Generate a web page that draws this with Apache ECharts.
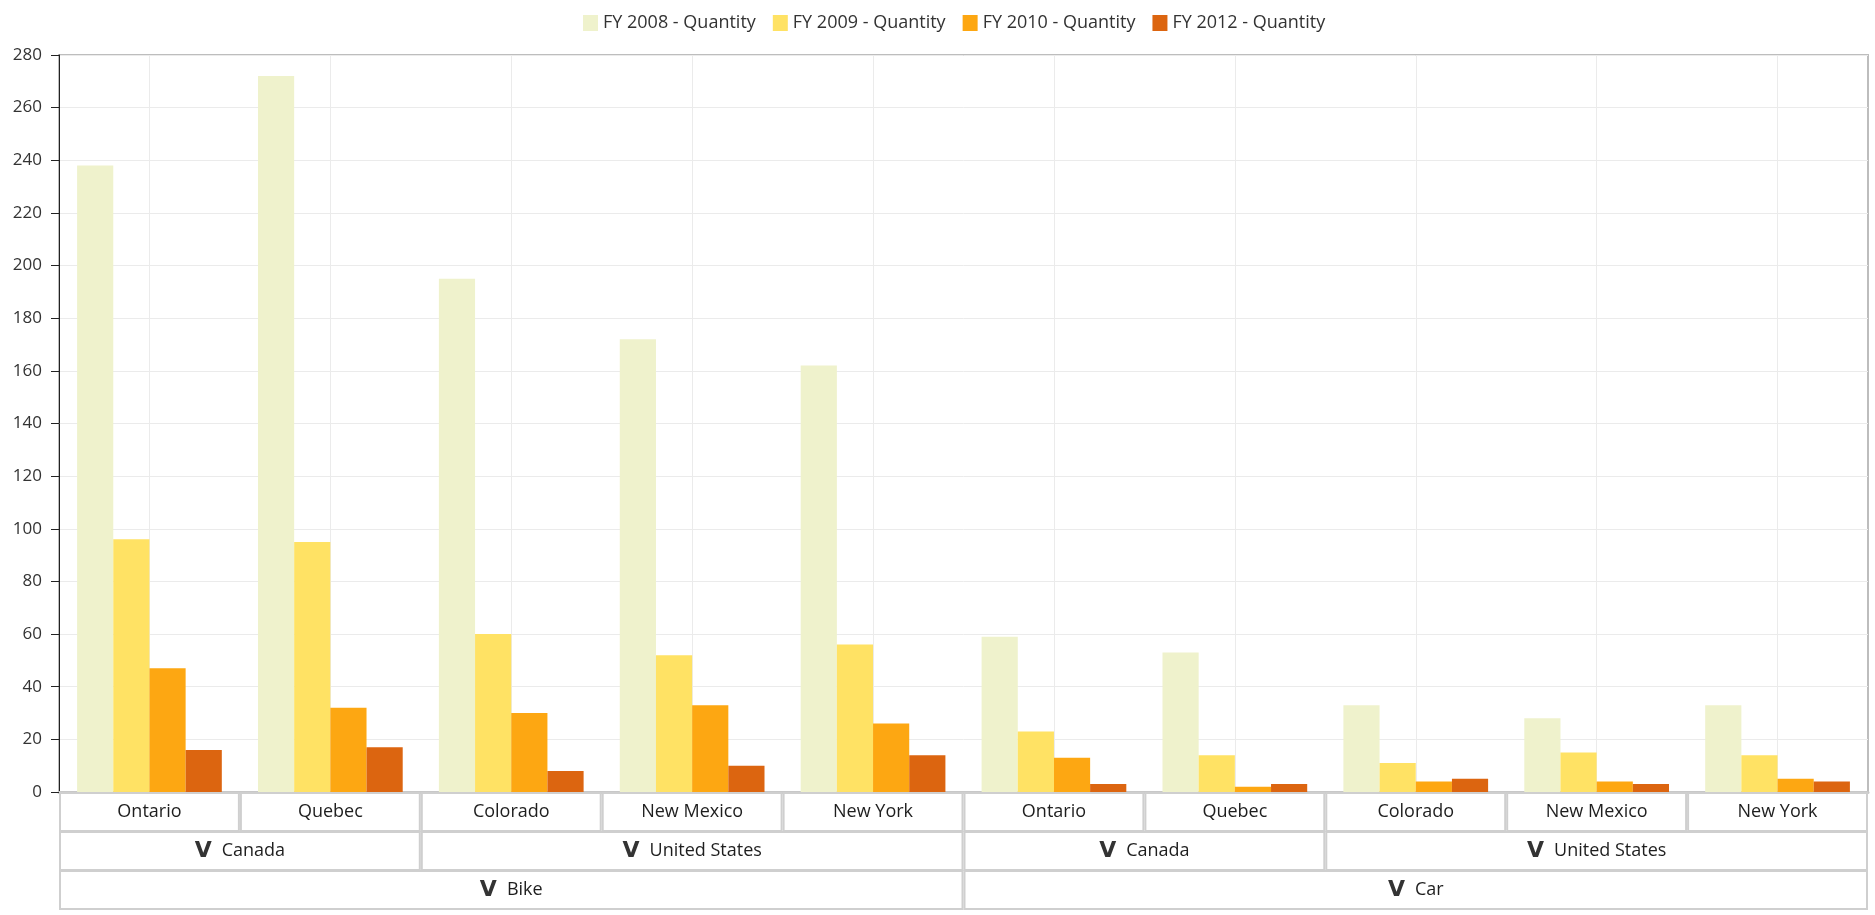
<!DOCTYPE html>
<html>
<head>
<meta charset="utf-8">
<script src="https://cdn.jsdelivr.net/npm/echarts@6/dist/echarts.min.js"></script>
<style>
  html, body { margin: 0; padding: 0; background: #fff; }
  #chart { width: 1875px; height: 915px; }
</style>
</head>
<body>
<div id="chart"></div>
<script>
// categories (innermost level first)
const states = ['Ontario', 'Quebec', 'Colorado', 'New Mexico', 'New York',
                'Ontario', 'Quebec', 'Colorado', 'New Mexico', 'New York'];
const countries = ['Canada', 'United States', 'Canada', 'United States'];
const countrySpans = [2, 3, 2, 3];
const products = ['Bike', 'Car'];
const productSpans = [5, 5];

// series
const seriesNames = ['FY 2008 - Quantity', 'FY 2009 - Quantity', 'FY 2010 - Quantity', 'FY 2012 - Quantity'];
const fy2008 = [238, 272, 195, 172, 162, 59, 53, 33, 28, 33];
const fy2009 = [96, 95, 60, 52, 56, 23, 14, 11, 15, 14];
const fy2010 = [47, 32, 30, 33, 26, 13, 2, 4, 4, 5];
const fy2012 = [16, 17, 8, 10, 14, 3, 3, 5, 3, 4];
const colors = ['#EFF2CC', '#FFE264', '#FDA712', '#DC6510'];

// value axis
const yMin = 0, yMax = 280, yStep = 20;

const FONT = '"Open Sans", "Noto Sans", sans-serif';
const W = 1875;
const grid = { left: 59, right: 7, top: 55, bottom: 123 };
const catW = (W - grid.left - grid.right) / states.length;
const rowH = 39;
const boxStyle = {
  backgroundColor: '#fff',
  borderColor: '#cfcfcf',
  borderWidth: 2,
  height: rowH - 3,
  lineHeight: rowH - 3,
  align: 'center',
  verticalAlign: 'top',
  color: '#1e1e1e',
  fontSize: 18,
  fontFamily: FONT
};

// one value axis per (row, span) so every box gets its own width
function groupAxes(names, spans, row) {
  const bySpan = {};
  let start = 0;
  names.forEach((n, i) => {
    const s = spans[i];
    (bySpan[s] = bySpan[s] || []).push({ name: n, center: start + s / 2 });
    start += s;
  });
  return Object.keys(bySpan).map(s => {
    const items = bySpan[s];
    return {
      type: 'value',
      position: 'bottom',
      offset: rowH * row,
      min: 0,
      max: states.length,
      axisLine: { show: false },
      axisTick: { show: false },
      splitLine: { show: false },
      axisLabel: Object.assign({}, boxStyle, {
        margin: 2,
        width: catW * Number(s) - 4,
        customValues: items.map(d => d.center),
        formatter: v => {
          const d = items.find(it => Math.abs(it.center - v) < 1e-6);
          return '{ic|V}{t|' + (d ? d.name : '') + '}';
        },
        rich: {
          ic: { fontFamily: '"DejaVu Sans", sans-serif', fontWeight: 'bold', fontSize: 22,
                color: '#333', padding: [0, 10, 0, 0], lineHeight: rowH - 3 },
          t: { fontFamily: FONT, fontSize: 18, color: '#1e1e1e', lineHeight: rowH - 3 }
        }
      })
    };
  });
}

const chart = echarts.init(document.getElementById('chart'));

chart.setOption({
  animation: false,
  color: colors,
  legend: {
    top: 9,
    left: 578,
    itemWidth: 15,
    itemHeight: 16,
    itemGap: 17,
    icon: 'rect',
    textStyle: { color: '#333', fontSize: 18, fontFamily: FONT }
  },
  grid: Object.assign({ show: true, borderColor: '#bdbdbd', borderWidth: 2 }, grid),
  xAxis: [
    {
      type: 'category',
      data: states,
      position: 'bottom',
      axisLine: { lineStyle: { color: '#c8c8c8', width: 3 } },
      axisTick: { show: false },
      splitLine: { show: true, alignWithLabel: true, lineStyle: { color: '#ebebeb', width: 1 } },
      axisLabel: Object.assign({}, boxStyle, {
        interval: 0,
        margin: 2,
        width: catW - 4
      })
    },
    ...groupAxes(countries, countrySpans, 1),
    ...groupAxes(products, productSpans, 2)
  ],
  yAxis: {
    type: 'value',
    min: yMin,
    max: yMax,
    interval: yStep,
    offset: 3,
    axisLine: { show: true, lineStyle: { color: '#222', width: 1 } },
    axisTick: { show: true, length: 8, lineStyle: { color: '#222' } },
    axisLabel: { color: '#333', fontSize: 17, fontFamily: FONT, margin: 14 },
    splitLine: { show: true, lineStyle: { color: '#ebebeb', width: 1 } }
  },
  series: [fy2008, fy2009, fy2010, fy2012].map((d, i) => ({
    name: seriesNames[i],
    type: 'bar',
    data: d,
    barGap: '0%',
    barCategoryGap: '20%'
  }))
});
</script>
</body>
</html>
